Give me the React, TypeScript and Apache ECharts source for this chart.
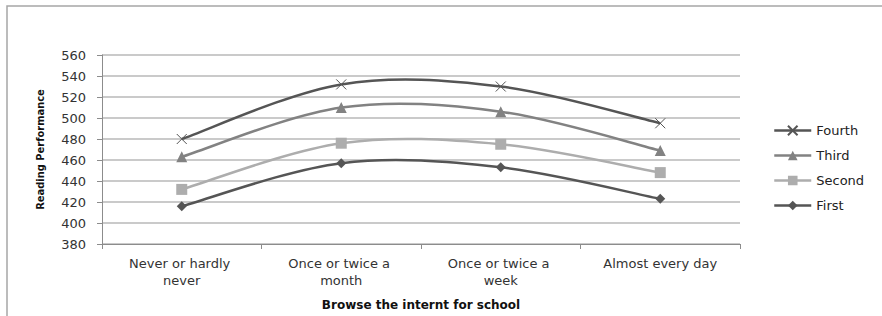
import React, { useEffect, useRef } from "react";
import * as echarts from "echarts";

const categories = [
  "Never or hardly never",
  "Once or twice a month",
  "Once or twice a week",
  "Almost every day",
];
const fourth = [480, 532, 530, 495];
const third = [463, 510, 506, 469];
const second = [432, 476, 475, 448];
const first = [416, 457, 453, 423];
const yTicks = { min: 380, max: 560, interval: 20 };

const FONT = "DejaVu Sans";

export default function App() {
  const ref = useRef<HTMLDivElement>(null);
  useEffect(() => {
    if (!ref.current) return;
    const chart = echarts.init(ref.current, null, { renderer: "svg" });

    // Catmull-Rom style smooth curve (like a spreadsheet's smoothed line)
    const curve = (name: string, data: number[], color: string) => ({
      name: name + " curve",
      type: "custom",
      data: data.map((v, i) => [i, v]),
      encode: { x: 0, y: 1 },
      silent: true,
      z: 2,
      renderItem: (params: any, api: any) => {
        const i = params.dataIndex;
        if (i >= data.length - 1) return null;
        const pt = (k: number) => {
          const kk = Math.max(0, Math.min(data.length - 1, k));
          return api.coord([kk, data[kk]]);
        };
        const p0 = pt(i - 1);
        const p1 = pt(i);
        const p2 = pt(i + 1);
        const p3 = pt(i + 2);
        return {
          type: "bezierCurve",
          shape: {
            x1: p1[0],
            y1: p1[1],
            x2: p2[0],
            y2: p2[1],
            cpx1: p1[0] + (p2[0] - p0[0]) / 6,
            cpy1: p1[1] + (p2[1] - p0[1]) / 6,
            cpx2: p2[0] - (p3[0] - p1[0]) / 6,
            cpy2: p2[1] - (p3[1] - p1[1]) / 6,
          },
          style: { stroke: color, lineWidth: 2.5, fill: "none" },
        };
      },
    });

    const marks = (
      name: string,
      data: number[],
      color: string,
      symbol: string,
      size: number,
      cross = false
    ) => ({
      name,
      type: "line",
      data,
      symbol,
      symbolSize: size,
      showSymbol: true,
      lineStyle: { color, width: 2.5, opacity: 0 },
      itemStyle: cross
        ? { color: "rgba(0,0,0,0)", borderColor: color, borderWidth: 1 }
        : { color, borderWidth: 0 },
      emphasis: { disabled: true },
      z: 3,
    });

    const colors: Record<string, string> = {
      Fourth: "#555555",
      Third: "#828282",
      Second: "#adadad",
      First: "#555555",
    };

    chart.setOption({
      animation: false,
      backgroundColor: "#fff",
      graphic: [
        {
          type: "rect",
          shape: { x: 7, y: 6, width: 1000, height: 400 },
          style: { fill: "none", stroke: "#a6a6a6", lineWidth: 1.5 },
          silent: true,
        },
      ],
      grid: { left: 102, top: 55, width: 638, height: 195 },
      legend: {
        orient: "vertical",
        left: 768,
        top: 119,
        itemWidth: 37,
        itemHeight: 12,
        itemGap: 12,
        data: ["Fourth", "Third", "Second", "First"].map((n) => ({
          name: n,
          lineStyle: { opacity: 1, color: colors[n], width: 2.5 },
        })),
        textStyle: { fontFamily: FONT, fontSize: 13, color: "#222" },
      },
      xAxis: {
        type: "category",
        data: categories,
        boundaryGap: true,
        name: "Browse the internt for school",
        nameLocation: "middle",
        nameGap: 55,
        nameTextStyle: {
          fontFamily: FONT,
          fontWeight: "bold",
          fontSize: 12,
          color: "#111",
        },
        axisLine: { lineStyle: { color: "#8c8c8c", width: 1 } },
        axisTick: { show: true, length: 5, lineStyle: { color: "#8c8c8c" } },
        axisLabel: {
          fontFamily: FONT,
          fontSize: 13,
          color: "#333",
          margin: 11,
          width: 125,
          overflow: "break",
          lineHeight: 17,
          interval: 0,
        },
        splitLine: { show: false },
      },
      yAxis: {
        type: "value",
        min: yTicks.min,
        max: yTicks.max,
        interval: yTicks.interval,
        name: "Reading Performance",
        nameLocation: "middle",
        nameGap: 56,
        nameRotate: 90,
        nameTextStyle: {
          fontFamily: "DejaVu Sans Condensed",
          fontWeight: "bold",
          fontSize: 11,
          color: "#111",
        },
        axisLine: { show: true, lineStyle: { color: "#8c8c8c", width: 1 } },
        axisTick: { show: true, length: 5, lineStyle: { color: "#8c8c8c" } },
        axisLabel: { fontFamily: FONT, fontSize: 13, color: "#333", margin: 16 },
        splitLine: { show: true, lineStyle: { color: "#b8b8b8", width: 1.5 } },
      },
      series: [
        curve("First", first, colors.First),
        curve("Second", second, colors.Second),
        curve("Third", third, colors.Third),
        curve("Fourth", fourth, colors.Fourth),
        marks("First", first, colors.First, "diamond", 10),
        marks("Second", second, colors.Second, "rect", 11),
        marks("Third", third, colors.Third, "triangle", 11),
        marks("Fourth", fourth, colors.Fourth, "path://M0 0L10 10M10 0L0 10", 10, true),
      ],
    });
    return () => chart.dispose();
  }, []);
  return (
    <div
      ref={ref}
      style={{ position: "fixed", left: 0, top: 0, width: 882, height: 316 }}
    />
  );
}
